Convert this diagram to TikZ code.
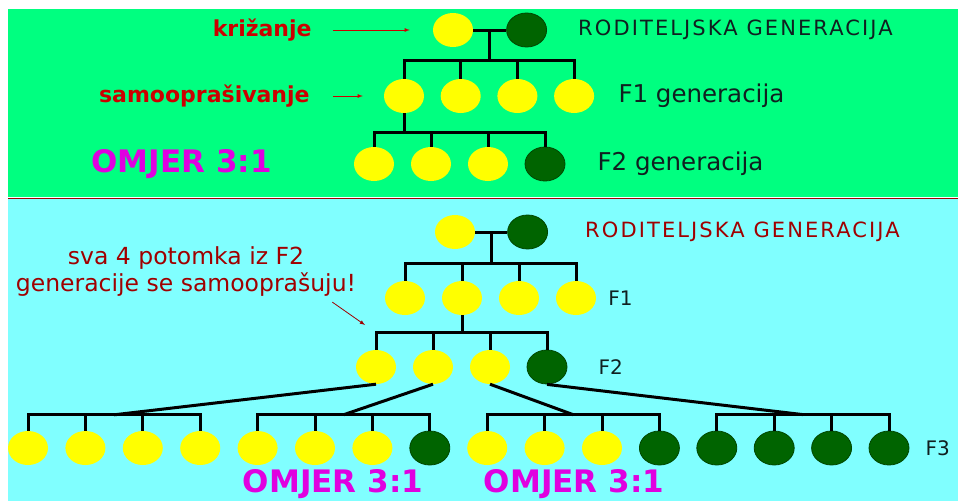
\documentclass[tikz,border=0pt]{standalone}
\usepackage{fontspec}
\setmainfont{DejaVu Sans}
\newfontfamily\widefont[LetterSpace=10]{DejaVu Sans}
\usetikzlibrary{positioning,shapes.geometric,calc}
\definecolor{meadow}{HTML}{00FF80}
\definecolor{sky}{HTML}{80FFFF}
\definecolor{leaf}{HTML}{006400}
\definecolor{corn}{HTML}{FFFF00}
\definecolor{brick}{HTML}{CC0000}
\definecolor{rust}{HTML}{A00000}
\definecolor{ratio}{HTML}{E000E0}
\definecolor{ink}{HTML}{102020}
\tikzset{>=latex}
\tikzset{
  pea/.style={ellipse, minimum width=40pt, minimum height=34pt, inner sep=0pt},
  yel/.style={pea, fill=corn},
  grn/.style={pea, fill=leaf, draw=leaf!70!black, line width=0.8pt},
  branch/.style={line width=3pt, black},
  note/.style={->, line width=0.8pt},
  txt/.style={inner sep=0pt},
  omjer/.style={txt, ratio, font=\bfseries\fontsize{31}{36}\selectfont},
  gen/.style={txt, font=\widefont\fontsize{21}{25}\selectfont},
}

\begin{document}
\begin{tikzpicture}[x=1pt,y=-1pt]
  \useasboundingbox (0,0) rectangle (960,501);

  % Panels
  \fill[meadow] (8,9) rectangle (958,197);
  \draw[rust, line width=1pt] (8,198) -- (958,198);
  \fill[sky] (8,199) rectangle (958,501);

  % Top: nodes
  \node[yel] (p1) at (453,30) {};
  \node[grn, right=33pt of p1] (p2) {};
  \foreach \i in {1,...,4} \node[yel] (a\i) at ({404+56.7*(\i-1)},96) {};
  \foreach \i/\s in {1/yel,2/yel,3/yel,4/grn} \node[\s] (b\i) at ({374+57*(\i-1)},164) {};

  % Top: branches
  \coordinate (j1) at ($(p1.east)!.5!(p2.west)$);
  \coordinate (t1) at ([yshift=-30pt]j1);
  \draw[branch] (p1) -- (p2);
  \draw[branch] (j1) -- (t1);
  \foreach \i in {1,...,4} \draw[branch] (t1) -| (a\i.north);
  \coordinate (t2) at ([yshift=-19pt]a1.south);
  \draw[branch] (a1.south) -- (t2);
  \foreach \i in {1,...,4} \draw[branch] (t2) -| (b\i.north);

  % Top: labels
  \node[txt, brick, font=\bfseries\fontsize{22}{26}\selectfont, left=121pt of p1] (kriz) {križanje};
  \node[txt, brick, font=\bfseries\fontsize{22}{26}\selectfont, left=74pt of a1] (samo) {samooprašivanje};
  \draw[note, brick, shorten <=21pt, shorten >=23pt] (kriz) -- (p1);
  \draw[note, brick, shorten <=23pt, shorten >=21pt] (samo) -- (a1);
  \node[omjer, left=82pt of b1] (omjer1) {OMJER 3:1};
  \node[gen, ink, right=31pt of p2] (rod1) {RODITELJSKA GENERACIJA};
  \node[txt, ink, font=\fontsize{24.5}{29}\selectfont, right=24pt of a4] (gen1) {F1 generacija};
  \node[txt, ink, font=\fontsize{24.5}{29}\selectfont, right=32pt of b4] (gen2) {F2 generacija};

  % Bottom: nodes
  \node[yel] (q1) at (455,232) {};
  \node[grn, right=32pt of q1] (q2) {};
  \foreach \i in {1,...,4} \node[yel] (c\i) at ({405+57*(\i-1)},298) {};
  \foreach \i/\s in {1/yel,2/yel,3/yel,4/grn} \node[\s] (d\i) at ({376+57*(\i-1)},367) {};
  \foreach \i/\s in {1/yel,2/yel,3/yel,4/yel,5/yel,6/yel,7/yel,8/grn,
                     9/yel,10/yel,11/yel,12/grn,13/grn,14/grn,15/grn,16/grn}
    \node[\s] (e\i) at ({28+57.4*(\i-1)},448) {};

  % Bottom: branches
  \coordinate (j2) at ($(q1.east)!.5!(q2.west)$);
  \coordinate (t3) at ([yshift=-31pt]j2);
  \draw[branch] (q1) -- (q2);
  \draw[branch] (j2) -- (t3);
  \foreach \i in {1,...,4} \draw[branch] (t3) -| (c\i.north);
  \coordinate (t4) at ([yshift=-17pt]c2.south);
  \draw[branch] (c2.south) -- (t4);
  \foreach \i in {1,...,4} \draw[branch] (t4) -| (d\i.north);
  \foreach \g in {1,...,4} {
    \pgfmathtruncatemacro{\ga}{4*\g-3}
    \pgfmathtruncatemacro{\gb}{4*\g}
    \coordinate (m\g) at ($(e\ga.north)!.5!(e\gb.north)+(0,-16)$);
    \draw[branch] (d\g.south) -- (m\g);
    \foreach \k in {\ga,...,\gb} \draw[branch] (m\g) -| (e\k.north);
  }

  % Bottom: labels
  \node[gen, rust, right=37pt of q2] (rod2) {RODITELJSKA GENERACIJA};
  \node[txt, ink, font=\fontsize{20}{24}\selectfont, right=12pt of c4] (f1) {F1};
  \node[txt, ink, font=\fontsize{20}{24}\selectfont, right=31pt of d4] (f2) {F2};
  \node[txt, ink, font=\fontsize{20}{24}\selectfont, right=16pt of e16] (f3) {F3};
  \node[txt, rust, align=center, font=\fontsize{23.5}{27}\selectfont] (ann) at (186,272)
    {sva 4 potomka iz F2\\generacije se samooprašuju!};
  \coordinate (tip) at (365,325);
  \draw[note, rust] ([shift={(-24pt,-5pt)}]ann.south east) -- (tip);
  \node[omjer] (omjer2) at (333,484) {OMJER 3:1};
  \node[omjer] (omjer3) at (574,484) {OMJER 3:1};
\end{tikzpicture}
\end{document}
